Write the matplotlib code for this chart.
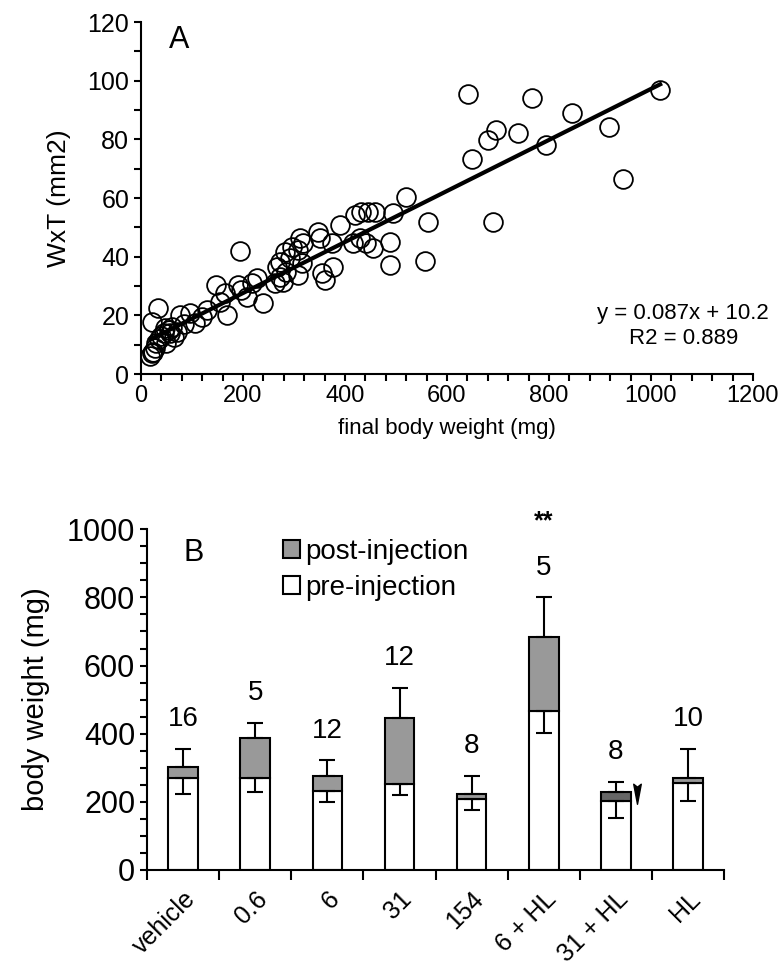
import numpy as np
import matplotlib
matplotlib.use('Agg')
import matplotlib.pyplot as plt
from matplotlib.patches import Patch
from matplotlib.path import Path
from matplotlib.ticker import MultipleLocator
from matplotlib.transforms import ScaledTranslation

plt.rcParams['font.family'] = ['Liberation Sans', 'DejaVu Sans']

# panel A: final body weight (mg) vs WxT (mm2)
body_weight = [18, 21, 23, 27, 30, 34, 21, 35, 40, 47, 50, 57, 60, 65, 70, 76, 85, 96,
               106, 119, 129, 45, 55,
               148, 155, 165, 168, 191, 194, 197, 207, 217, 227, 240, 263, 266, 272,
               282, 292, 279, 285, 308, 318, 308, 273, 296, 312, 315,
               347, 351, 354, 360, 377, 390, 374, 419, 432, 445, 458, 416, 429, 442,
               455, 488, 488, 494,
               519, 563, 557, 642, 650, 680, 690, 696, 739, 766, 795, 845, 918, 945, 1018]
wxt = [6, 7, 7.5, 9, 10.5, 22.4, 17.8, 12, 13, 15.6, 10.5, 13.9, 16, 12.5, 14.4, 20.1, 17, 20.7,
       17.3, 19.5, 21.8, 14, 15,
       30.3, 24.7, 27.5, 20.1, 30.3, 42, 28.6, 26.4, 30.9, 32.6, 24.1, 30.9, 36.6, 38.3,
       41.7, 39.4, 31.5, 34.9, 33.8, 44.5, 42.3, 33.2, 43.4, 46.3, 37.7,
       48.5, 46.3, 34.3, 32.0, 36.6, 50.8, 44.5, 54.2, 55.3, 55.3, 55.3, 44.5, 46.3, 44.5,
       42.8, 45.1, 37.2, 54.8,
       60.4, 51.9, 38.5, 95.4, 73.2, 79.8, 51.9, 83.2, 82.1, 94.2, 78.1, 88.9, 84.3, 66.5, 96.8]
slope = 0.087
intercept = 10.2
r2 = 0.889

# panel B: body weight per treatment
groups = ['vehicle', '0.6', '6', '31', '154', '6 + HL', '31 + HL', 'HL']
pre_injection = [270, 270, 233, 252, 208, 467, 202, 254]
post_injection = [303, 388, 277, 447, 222, 685, 228, 271]
err_post = [52, 43, 45, 87, 55, 115, 30, 84]
err_pre = [47, 40, 33, 31, 33, 66, 50, 51]
n_animals = [16, 5, 12, 12, 8, 5, 8, 10]
post_colors = ['#999999'] * 6 + ['#666666', '#999999']

fig = plt.figure(figsize=(7.82, 9.74), dpi=100)

# ---- A ----
ax = fig.add_axes([0.1803, 0.616, 0.7826, 0.3614])
ax.plot(body_weight, wxt, 'o', mfc='none', mec='black', ms=13.5, mew=1.3)
xl = np.array([min(body_weight), max(body_weight)])
ax.plot(xl, slope * xl + intercept, color='black', lw=3)
ax.set_xlim(0, 1200)
ax.set_ylim(0, 120)
ax.xaxis.set_major_locator(MultipleLocator(200))
ax.xaxis.set_minor_locator(MultipleLocator(40))
ax.yaxis.set_major_locator(MultipleLocator(20))
ax.yaxis.set_minor_locator(MultipleLocator(10))
for s in ['top', 'right']:
    ax.spines[s].set_visible(False)
for s in ['left', 'bottom']:
    ax.spines[s].set_linewidth(1.5)
ax.tick_params(which='both', direction='out', length=5, width=1.5)
ax.tick_params(axis='y', labelsize=18)
ax.tick_params(axis='x', labelsize=17, pad=3)
ax.set_xlabel('final body weight (mg)', fontsize=16, labelpad=8)
ax.set_ylabel('WxT (mm2)', fontsize=19, labelpad=12)
ax.text(0.045, 0.95, 'A', transform=ax.transAxes, fontsize=22, va='center')
ax.text(0.886, 0.136, 'y = %.3fx + %.1f\nR2 = %.3f' % (slope, intercept, r2),
        transform=ax.transAxes, fontsize=16, ha='center', va='center', linespacing=1.25)

# ---- B ----
bx = fig.add_axes([0.188, 0.1068, 0.738, 0.3498])
x_pos = np.arange(len(groups))
pre = np.array(pre_injection)
post = np.array(post_injection)
bx.bar(x_pos, pre, width=0.41, color='white', edgecolor='black', lw=1.5, zorder=2)
bx.bar(x_pos, post - pre, bottom=pre, width=0.41, color=post_colors,
       edgecolor='black', lw=1.5, zorder=2)
bx.errorbar(x_pos, post, yerr=[np.zeros(len(groups)), err_post], fmt='none',
            ecolor='black', elinewidth=1.5, capsize=5.5, capthick=1.5, zorder=3)
bx.errorbar(x_pos, pre, yerr=[err_pre, np.zeros(len(groups))], fmt='none',
            ecolor='black', elinewidth=1.5, capsize=5.5, capthick=1.5, zorder=3)
for i in range(len(groups)):
    bx.annotate(str(n_animals[i]), (x_pos[i], post[i] + err_post[i]),
                xytext=(0, 12), textcoords='offset points', ha='center',
                va='bottom', fontsize=20)
bx.annotate('**', (x_pos[5], post[5] + err_post[5]), xytext=(0, 46),
            textcoords='offset points', ha='center', va='bottom', fontsize=18,
            fontweight='bold')

# arrowhead next to the 31 + HL bar
arrow = Path([(0, -1), (-0.32, 0.7), (0, 0.45), (0.32, 0.7), (0, -1)],
             [Path.MOVETO, Path.LINETO, Path.LINETO, Path.LINETO, Path.CLOSEPOLY])
bx.plot([x_pos[6] + 0.29], [post[6]], marker=arrow, ms=17, color='black',
        ls='none', zorder=4)

bx.set_xlim(-0.5, len(groups) - 0.5)
bx.set_ylim(0, 1000)
bx.set_xticks(np.arange(len(groups) + 1) - 0.5)
bx.set_xticklabels([])
bx.set_xticks(x_pos, minor=True)
bx.set_xticklabels(groups, minor=True, rotation=45, ha='right',
                   rotation_mode='anchor', fontsize=18)
shift = ScaledTranslation(-14 / 72, 0, fig.dpi_scale_trans)
for lab in bx.get_xticklabels(minor=True):
    lab.set_transform(lab.get_transform() + shift)
bx.tick_params(axis='x', which='major', direction='out', length=7, width=1.5)
bx.tick_params(axis='x', which='minor', length=0, pad=12)
bx.yaxis.set_major_locator(MultipleLocator(200))
bx.yaxis.set_minor_locator(MultipleLocator(50))
bx.tick_params(axis='y', which='both', direction='out', length=5, width=1.5,
               labelsize=22)
for s in ['top', 'right']:
    bx.spines[s].set_visible(False)
for s in ['left', 'bottom']:
    bx.spines[s].set_linewidth(1.5)
bx.set_ylabel('body weight (mg)', fontsize=21, labelpad=12)
bx.text(0.0, 930, 'B', fontsize=22, va='center')

handles = [Patch(facecolor='#999999', edgecolor='black', lw=1.5),
           Patch(facecolor='white', edgecolor='black', lw=1.5)]
bx.legend(handles, ['post-injection', 'pre-injection'], loc='upper left',
          bbox_to_anchor=(0.344, 0.461), bbox_transform=fig.transFigure,
          frameon=False, fontsize=20, handlelength=0.6, handleheight=0.6,
          handletextpad=0.2, borderpad=0, labelspacing=0.35)

fig.savefig('out.png', dpi=100)
